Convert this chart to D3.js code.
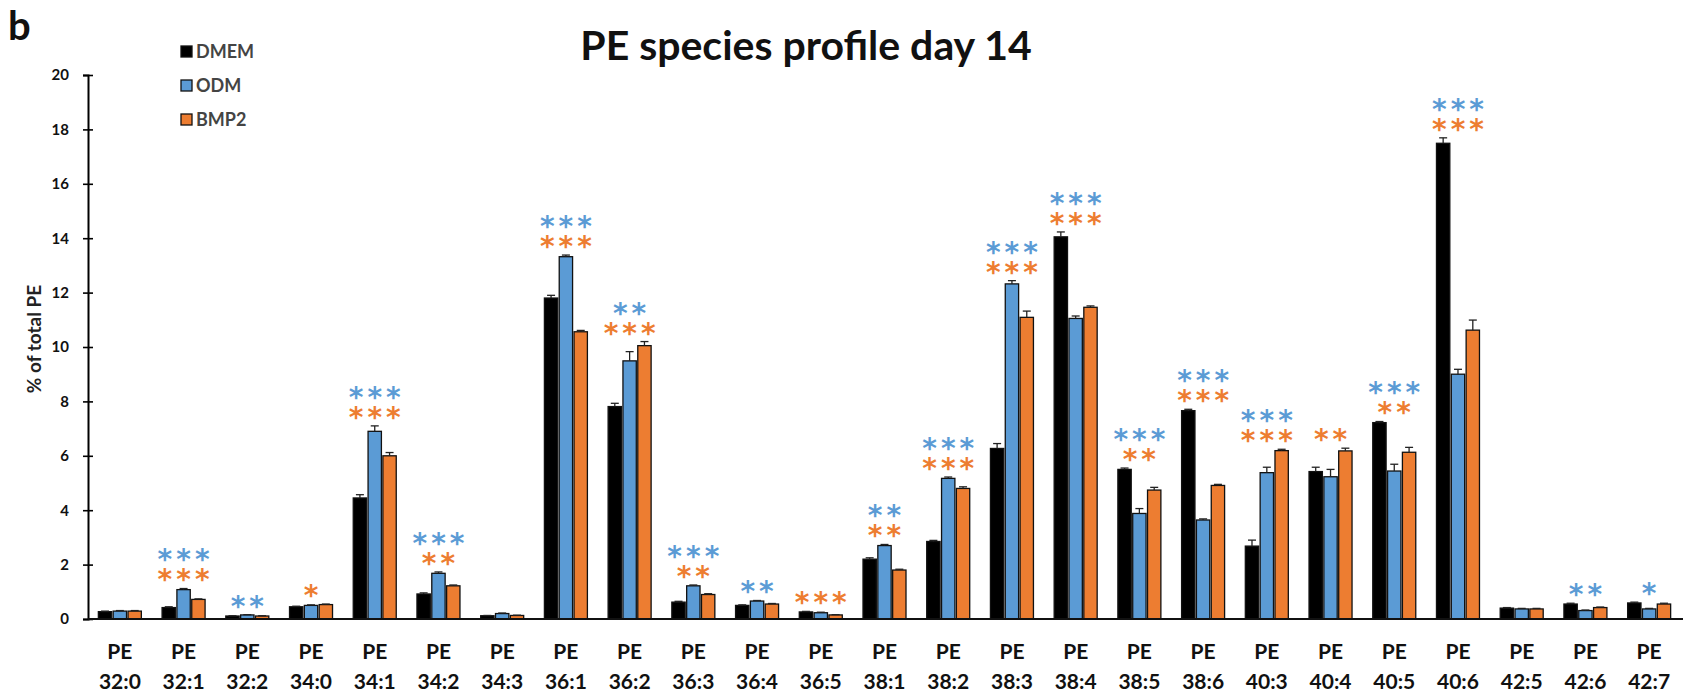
<!DOCTYPE html>
<html>
<head>
<meta charset="utf-8">
<script src="https://cdn.jsdelivr.net/npm/d3@7"></script>
<style>
  body { margin: 0; background: #fff; }
  text { font-family: Lato, "Open Sans", sans-serif; }
</style>
</head>
<body>
<div id="chart"></div>
<script>
const WIDTH = 1686, HEIGHT = 695;

// data
const categories = ["32:0","32:1","32:2","34:0","34:1","34:2","34:3","36:1","36:2","36:3","36:4","36:5",
  "38:1","38:2","38:3","38:4","38:5","38:6","40:3","40:4","40:5","40:6","42:5","42:6","42:7"];
const series = ["DMEM", "ODM", "BMP2"];
const dmem    = [0.27,0.42,0.11,0.45,4.45,0.92,0.12,11.8,7.81,0.62,0.5,0.26,2.2,2.85,6.27,14.05,5.5,7.66,2.68,5.42,7.22,17.49,0.4,0.55,0.59];
const dmemErr = [0.02,0.03,0.01,0.02,0.12,0.04,0.01,0.1,0.12,0.03,0.02,0.02,0.05,0.04,0.18,0.18,0.05,0.05,0.22,0.16,0.04,0.2,0.02,0.03,0.03];
const odm     = [0.29,1.08,0.15,0.5,6.9,1.68,0.2,13.32,9.49,1.22,0.66,0.23,2.7,5.17,12.32,11.05,3.88,3.64,5.38,5.23,5.44,9.0,0.37,0.31,0.37];
const odmErr  = [0.02,0.04,0.01,0.02,0.2,0.05,0.02,0.06,0.34,0.03,0.02,0.02,0.04,0.05,0.12,0.09,0.18,0.04,0.2,0.27,0.25,0.18,0.02,0.02,0.02];
const bmp2    = [0.29,0.72,0.11,0.53,6.0,1.22,0.13,10.56,10.05,0.9,0.55,0.15,1.8,4.8,11.09,11.46,4.74,4.91,6.19,6.18,6.13,10.62,0.37,0.42,0.55];
const bmp2Err = [0.02,0.02,0.01,0.02,0.12,0.03,0.01,0.05,0.15,0.03,0.02,0.01,0.03,0.06,0.23,0.05,0.1,0.04,0.05,0.1,0.18,0.37,0.02,0.02,0.03];
// significance vs DMEM, number of asterisks
const starsODM  = [0,3,2,0,3,3,0,3,2,3,2,0,2,3,3,3,3,3,3,0,3,3,0,2,1];
const starsBMP2 = [0,3,0,1,3,2,0,3,3,2,0,3,2,3,3,3,2,3,3,2,2,3,0,0,0];
const yTicks = [0,2,4,6,8,10,12,14,16,18,20];

const colors = {"DMEM": "#000000", "ODM": "#5b9bd5", "BMP2": "#ed7d31"};

const LEFT = 88, RIGHT = 1681, TOP = 75, BOTTOM = 619;

const svg = d3.select("#chart").append("svg").attr("width", WIDTH).attr("height", HEIGHT)

const x_scale = d3.scaleBand().domain(categories).range([LEFT, RIGHT]).padding(0)
const inner = d3.scaleBand().domain(series).range([0, 43]).paddingInner(0.1)
const y_scale = d3.scaleLinear().domain([0, 20]).range([BOTTOM, TOP])

const rows = categories.map((c, i) => ({
  key: c,
  vals: [
    {s: "DMEM", v: dmem[i], e: dmemErr[i]},
    {s: "ODM", v: odm[i], e: odmErr[i]},
    {s: "BMP2", v: bmp2[i], e: bmp2Err[i]}
  ],
  so: starsODM[i], sb: starsBMP2[i]
}))

// y axis
const gen_y = d3.axisLeft(y_scale).tickValues(yTicks).tickSizeOuter(0).tickSize(5).tickPadding(14)
const yAxis = svg.append("g").attr("transform", "translate(" + LEFT + ",0)").call(gen_y)
yAxis.select(".domain").attr("stroke-width", 2)
yAxis.selectAll(".tick line").attr("x1", 5).attr("stroke-width", 1.6)
yAxis.selectAll(".tick text").style("font-size", "15px").style("font-weight", "bold").attr("fill", "#111")

// bars
const groups = svg.selectAll("g.grp").data(rows).enter().append("g").attr("class", "grp")
  .attr("transform", d => "translate(" + (x_scale(d.key) + (x_scale.bandwidth() - 43) / 2) + ",0)")

groups.selectAll("rect").data(d => d.vals).enter().append("rect")
  .attr("x", d => inner(d.s))
  .attr("y", d => y_scale(d.v))
  .attr("width", inner.bandwidth())
  .attr("height", d => y_scale(0) - y_scale(d.v))
  .attr("fill", d => colors[d.s])
  .attr("stroke", "#111").attr("stroke-width", 1.3)

// error bars
const eb = groups.selectAll("g.err").data(d => d.vals).enter().append("g").attr("class", "err")
eb.append("line")
  .attr("x1", d => inner(d.s) + inner.bandwidth() / 2).attr("x2", d => inner(d.s) + inner.bandwidth() / 2)
  .attr("y1", d => y_scale(d.v)).attr("y2", d => y_scale(d.v + d.e))
  .attr("stroke", "#222").attr("stroke-width", 1.3)
eb.append("line")
  .attr("x1", d => inner(d.s) + inner.bandwidth() / 2 - 4).attr("x2", d => inner(d.s) + inner.bandwidth() / 2 + 4)
  .attr("y1", d => y_scale(d.v + d.e)).attr("y2", d => y_scale(d.v + d.e))
  .attr("stroke", "#222").attr("stroke-width", 1.3)

// x axis
svg.append("line").attr("x1", LEFT).attr("x2", RIGHT + 2).attr("y1", BOTTOM).attr("y2", BOTTOM)
  .attr("stroke", "#111").attr("stroke-width", 2)

const xl = svg.selectAll("g.xl").data(categories).enter().append("g").attr("class", "xl")
  .attr("transform", d => "translate(" + (x_scale(d) + x_scale.bandwidth() / 2) + ",0)")
xl.append("text").attr("y", 659).attr("text-anchor", "middle").style("font-size", "21px").style("font-weight", "bold").attr("fill", "#111").text("PE")
xl.append("text").attr("y", 689).attr("text-anchor", "middle").style("font-size", "21px").style("font-weight", "bold").attr("fill", "#111").text(d => d)

// significance stars: BMP2 row just above the tallest error bar, ODM row above it
// both rows go in one text element
const STAR_FS = 28, STAR_GAP = 4
rows.forEach(d => {
  if (d.so + d.sb == 0) return
  const top = d3.min(d.vals, v => y_scale(v.v + v.e))
  const cx = x_scale(d.key) + x_scale.bandwidth() / 2 + STAR_GAP / 2
  let cy = top - 15
  const t = svg.append("text").attr("text-anchor", "middle")
    .style("font-family", "'DejaVu Sans', sans-serif").style("font-size", STAR_FS + "px")
    .style("font-weight", "bold").style("letter-spacing", STAR_GAP + "px")
  const lines = []
  if (d.sb > 0) { lines.push({n: d.sb, c: colors["BMP2"], y: cy}); cy -= 20 }
  if (d.so > 0) { lines.push({n: d.so, c: colors["ODM"], y: cy}) }
  lines.reverse().forEach(l => {
    t.append("tspan").attr("x", cx).attr("y", l.y + STAR_FS * 0.57).attr("fill", l.c).text("*".repeat(l.n))
  })
})

// y label
svg.append("text").attr("transform", "translate(41,339) rotate(-90)").attr("text-anchor", "middle")
  .style("font-size", "19px").style("font-weight", "bold").attr("fill", "#222").text("% of total PE")

// title and panel letter
svg.append("text").attr("x", 806).attr("y", 60).attr("text-anchor", "middle")
  .style("font-size", "41px").style("font-weight", "bold").attr("fill", "#111").text("PE species profile day 14")
svg.append("text").attr("x", 8).attr("y", 40).style("font-size", "40px").style("font-weight", "bold").attr("fill", "#111").text("b")

// legend
const legend = svg.append("g").attr("transform", "translate(181,46)")
series.forEach((s, i) => {
  const row = legend.append("g").attr("transform", "translate(0," + (i * 34) + ")")
  row.append("rect").attr("width", 11).attr("height", 11).attr("fill", colors[s]).attr("stroke", "#111").attr("stroke-width", 1.3)
  row.append("text").attr("x", 15).attr("y", 12).style("font-size", "18px").style("font-weight", "bold").attr("fill", "#444").text(s)
})
</script>
</body>
</html>
